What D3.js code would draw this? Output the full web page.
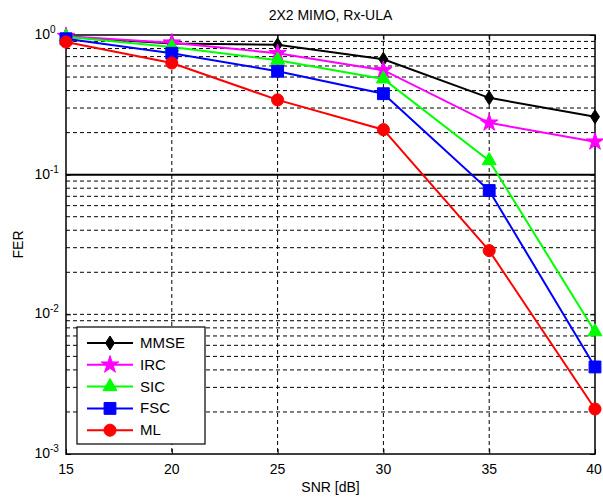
<!DOCTYPE html>
<html>
<head>
<meta charset="utf-8">
<script src="https://cdn.jsdelivr.net/npm/d3@7"></script>
<style>
  html, body { margin: 0; padding: 0; background: #fff; overflow: hidden; }
  svg { display: block; }
  text { font-family: "Liberation Sans", Arial, sans-serif; fill: #000; }
</style>
</head>
<body>
<svg width="603" height="498"></svg>
<script>
const snr = [15, 20, 25, 30, 35, 40];
const mmse = [0.97, 0.87, 0.85, 0.67, 0.355, 0.26];
const irc = [0.98, 0.88, 0.74, 0.56, 0.235, 0.172];
const sic = [0.97, 0.82, 0.66, 0.485, 0.126, 0.0075];
const fsc = [0.94, 0.74, 0.55, 0.38, 0.077, 0.0042];
const ml = [0.89, 0.63, 0.343, 0.21, 0.0286, 0.0021];
const xTicks = [15, 20, 25, 30, 35, 40];
const yTicks = [1e-3, 1e-2, 1e-1, 1];
const threshold = 0.1;

const series = [
  { name: "MMSE", values: mmse, color: "#000000", marker: "diamond" },
  { name: "IRC", values: irc, color: "#ff00ff", marker: "star" },
  { name: "SIC", values: sic, color: "#00ff00", marker: "triangle" },
  { name: "FSC", values: fsc, color: "#0000ff", marker: "square" },
  { name: "ML", values: ml, color: "#ff0000", marker: "circle" },
];

const svg = d3.select("svg");
const margin = { top: 35, right: 8, bottom: 44, left: 66 };
const width = +svg.attr("width");
const height = +svg.attr("height");
const innerWidth = width - margin.left - margin.right;
const innerHeight = height - margin.top - margin.bottom;

// scales in page coordinates
const xScale = d3.scaleLinear().domain([15, 40])
  .range([margin.left, margin.left + innerWidth]);
const yScale = d3.scaleLog().domain([1e-3, 1])
  .range([margin.top + innerHeight, margin.top]);
const [x0, x1] = xScale.range();
const [y1, y0] = yScale.range();

// minor + major y grid (dashed)
const yGrid = [];
for (let e = -3; e < 0; e++) {
  for (let k = 1; k < 10; k++) yGrid.push(k * Math.pow(10, e));
}
svg.append("g").selectAll("line")
  .data(yGrid.filter(v => v > 1e-3 && v !== threshold))
  .enter().append("line")
  .attr("x1", x0).attr("x2", x1)
  .attr("y1", d => yScale(d)).attr("y2", d => yScale(d))
  .attr("stroke", "#000").attr("stroke-width", 1)
  .attr("stroke-dasharray", "4,3");

// x grid
svg.append("g").selectAll("line")
  .data(xTicks.slice(1, -1))
  .enter().append("line")
  .attr("x1", d => xScale(d)).attr("x2", d => xScale(d))
  .attr("y1", y0).attr("y2", y1)
  .attr("stroke", "#000").attr("stroke-width", 1)
  .attr("stroke-dasharray", "4,3");

// solid line at 10^-1
svg.append("line")
  .attr("x1", x0).attr("x2", x1)
  .attr("y1", yScale(threshold)).attr("y2", yScale(threshold))
  .attr("stroke", "#000").attr("stroke-width", 2);

// ticks (inside), labels drawn separately
const clean = a => { a.select(".domain").remove(); a.selectAll("text").remove(); };
svg.append("g").attr("transform", `translate(0,${y1})`)
  .call(d3.axisBottom(xScale).tickValues(xTicks).tickSize(-5)).call(clean);
svg.append("g").attr("transform", `translate(0,${y0})`)
  .call(d3.axisTop(xScale).tickValues(xTicks).tickSize(-5)).call(clean);
svg.append("g").attr("transform", `translate(${x0},0)`)
  .call(d3.axisLeft(yScale).tickValues(yTicks).tickSize(-5)).call(clean);
svg.append("g").attr("transform", `translate(${x1},0)`)
  .call(d3.axisRight(yScale).tickValues(yTicks).tickSize(-5)).call(clean);

// box
svg.append("rect")
  .attr("x", x0).attr("y", y0)
  .attr("width", innerWidth).attr("height", innerHeight)
  .attr("fill", "none").attr("stroke", "#000").attr("stroke-width", 1.5);

// x tick labels
svg.append("g").selectAll("text")
  .data(xTicks).enter().append("text")
  .attr("x", d => Math.min(xScale(d), width - 9)).attr("y", y1 + 20)
  .attr("text-anchor", "middle").style("font-size", "14px")
  .text(d => d);

// y tick labels 10^n
svg.append("g").selectAll("text")
  .data(yTicks).enter().append("text")
  .attr("x", x0 - 16).attr("y", d => yScale(d) + 4)
  .attr("text-anchor", "end").style("font-size", "14px")
  .text("10");
svg.append("g").selectAll("text")
  .data(yTicks).enter().append("text")
  .attr("x", x0 - 16).attr("y", d => yScale(d) - 2)
  .style("font-size", "10px")
  .text(d => String(Math.round(Math.log10(d))));

// lines
const line = d3.line()
  .x((d, i) => xScale(snr[i]))
  .y(d => yScale(d));

const markerPath = (type) => {
  if (type === "diamond") return "M0,-7L4.5,0L0,7L-4.5,0Z";
  if (type === "star") return d3.symbol(d3.symbolStar, 95)();
  if (type === "triangle") return d3.symbol(d3.symbolTriangle, 85)();
  if (type === "square") return d3.symbol(d3.symbolSquare, 140)();
  return d3.symbol(d3.symbolCircle, 115)();
};

series.forEach(s => {
  svg.append("path")
    .datum(s.values)
    .attr("d", line)
    .attr("fill", "none")
    .attr("stroke", s.color)
    .attr("stroke-width", 2);
  svg.append("g").selectAll("path")
    .data(s.values).enter().append("path")
    .attr("d", markerPath(s.marker))
    .attr("transform", (d, i) => `translate(${xScale(snr[i])},${yScale(d)})`)
    .attr("fill", s.color)
    .attr("stroke", s.color)
    .attr("stroke-width", 1);
});

// legend
const legend = svg.append("g").attr("transform", `translate(${x0 + 11},${y0 + 292})`);
legend.append("rect")
  .attr("width", 128).attr("height", 117)
  .attr("fill", "#fff").attr("stroke", "#000").attr("stroke-width", 1.2);
series.forEach((s, i) => {
  const y = 16 + i * 21.8;
  legend.append("line")
    .attr("x1", 10).attr("x2", 56).attr("y1", y).attr("y2", y)
    .attr("stroke", s.color).attr("stroke-width", 2);
  legend.append("path")
    .attr("d", markerPath(s.marker))
    .attr("transform", `translate(33,${y})`)
    .attr("fill", s.color).attr("stroke", s.color);
  legend.append("text")
    .attr("x", 63).attr("y", y + 5)
    .style("font-size", "15px")
    .text(s.name);
});

// title and axis labels
svg.append("text")
  .attr("x", (x0 + x1) / 2).attr("y", 20)
  .attr("text-anchor", "middle").style("font-size", "14px")
  .text("2X2 MIMO, Rx-ULA");
svg.append("text")
  .attr("x", (x0 + x1) / 2).attr("y", 492)
  .attr("text-anchor", "middle").style("font-size", "14px")
  .text("SNR [dB]");
svg.append("text")
  .attr("transform", `translate(23,${(y0 + y1) / 2}) rotate(-90)`)
  .attr("text-anchor", "middle").style("font-size", "14px")
  .text("FER");
</script>
</body>
</html>
